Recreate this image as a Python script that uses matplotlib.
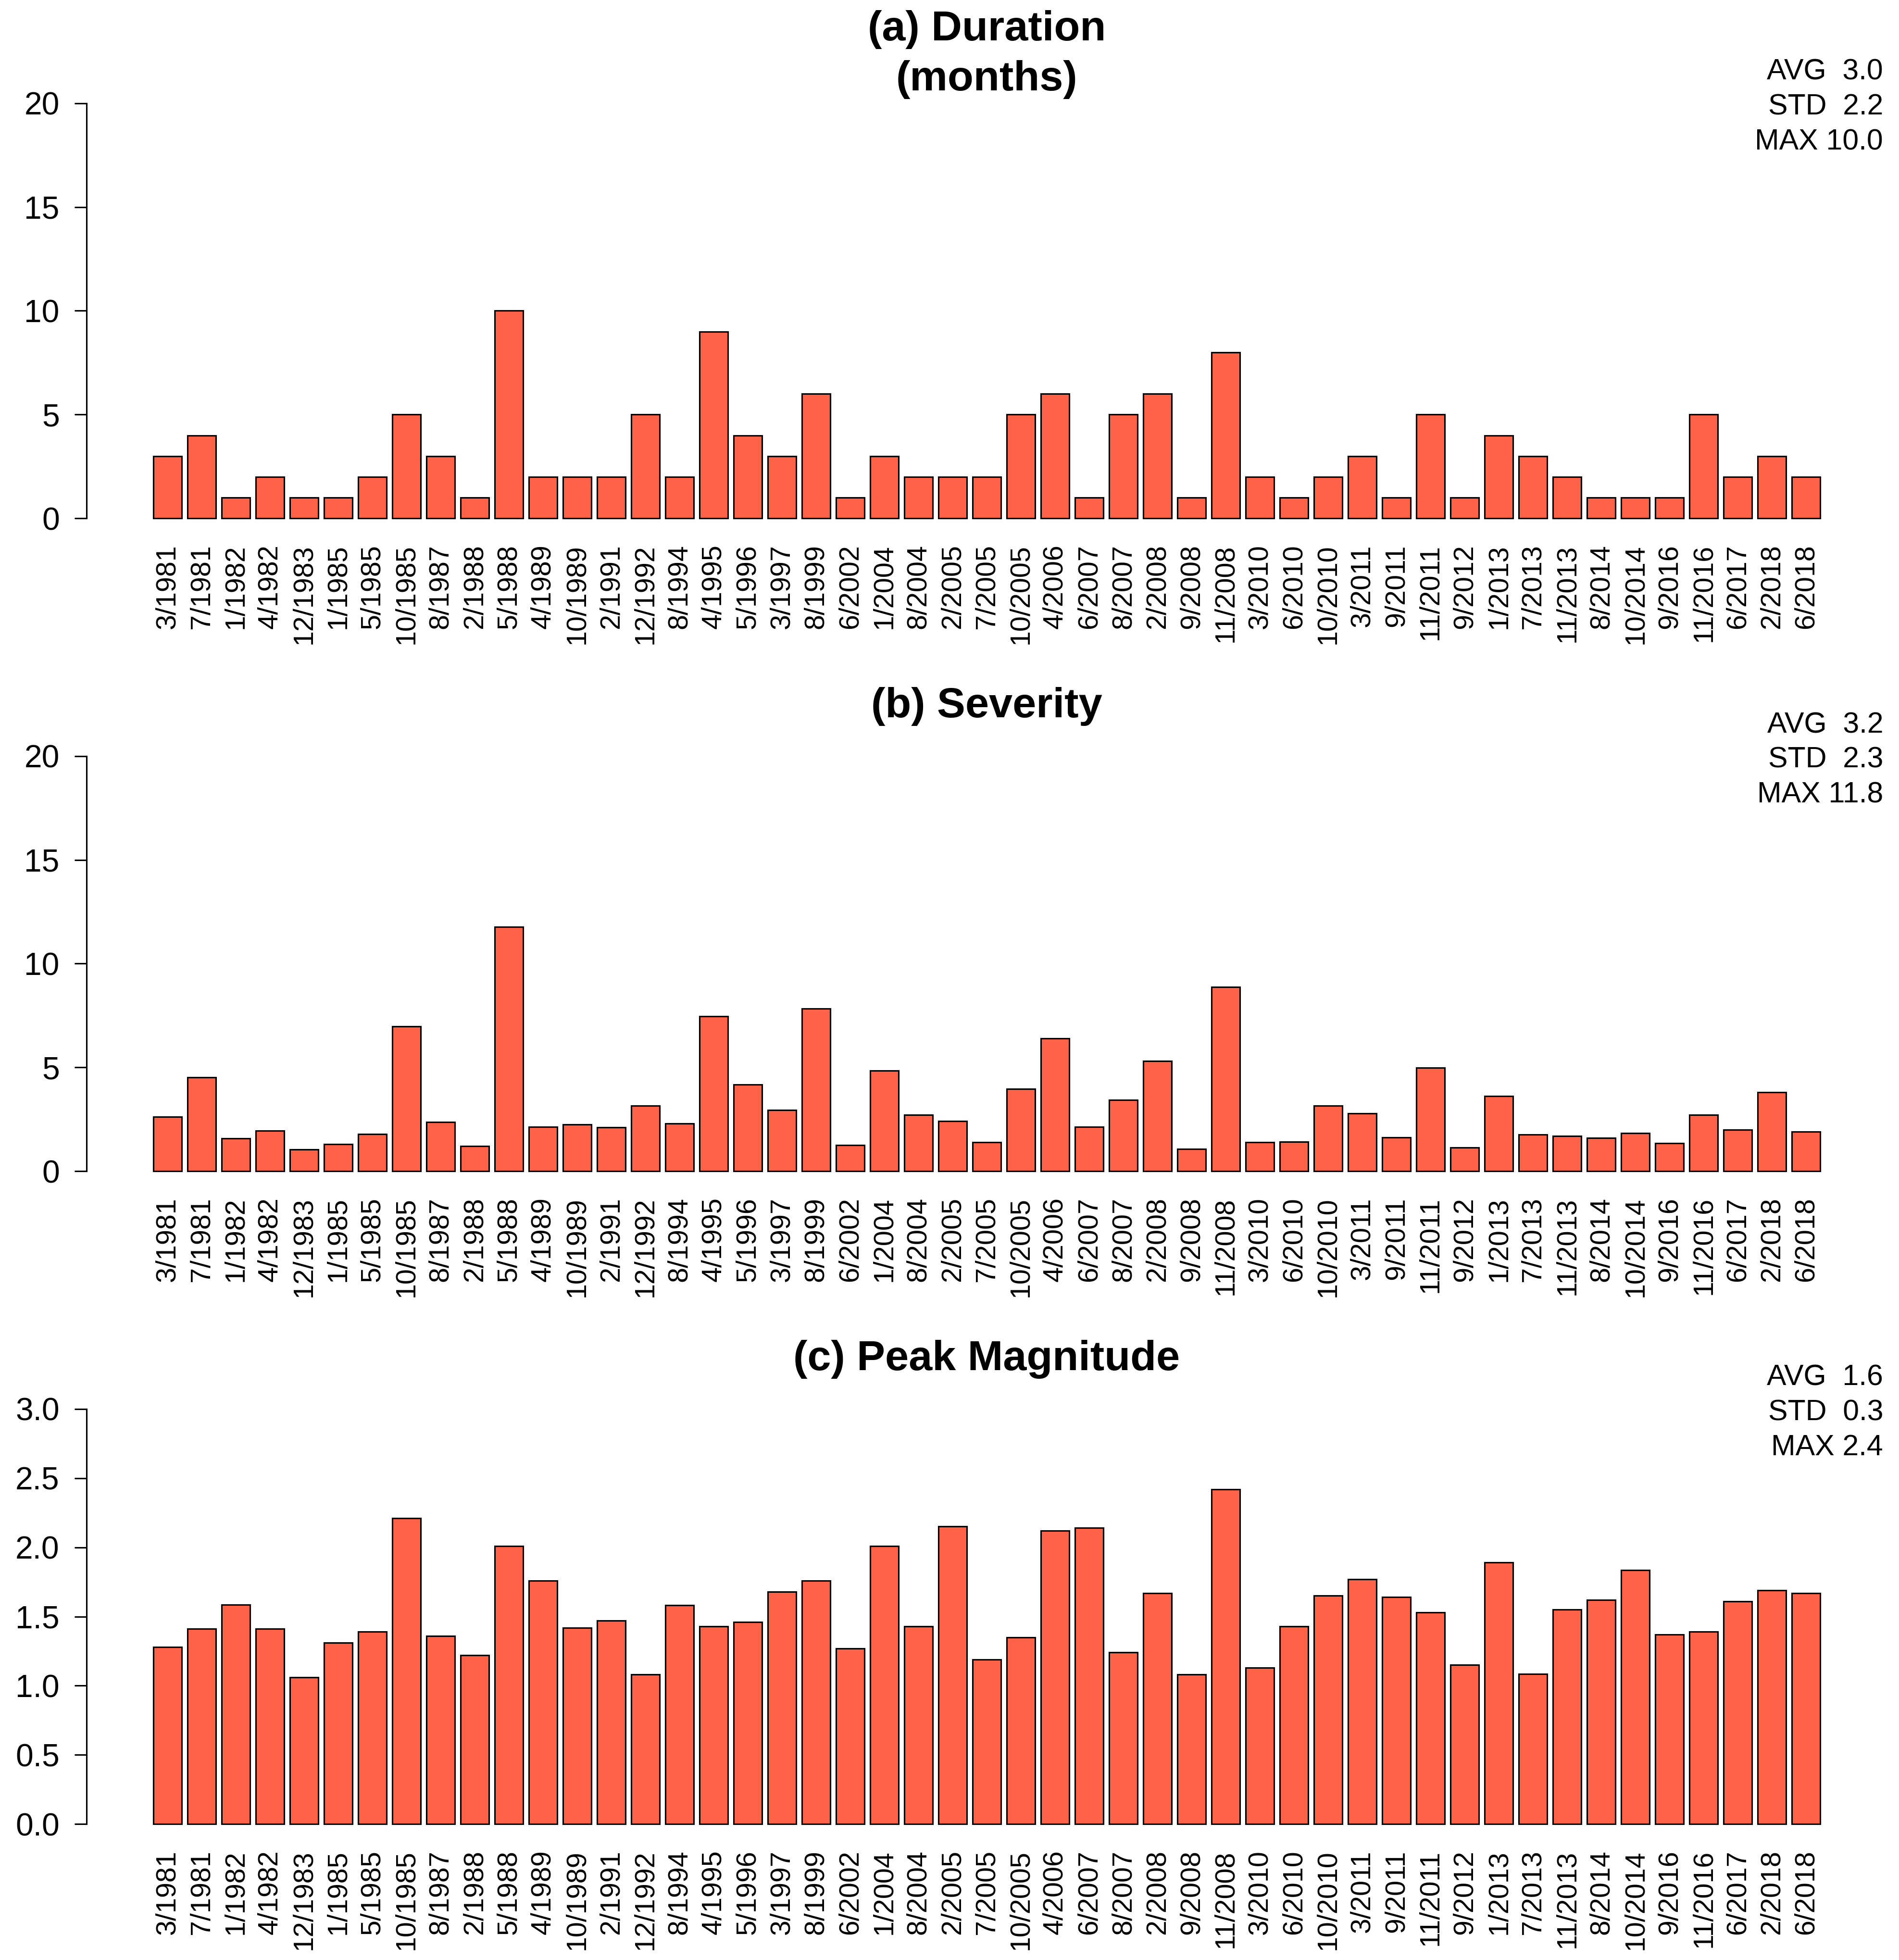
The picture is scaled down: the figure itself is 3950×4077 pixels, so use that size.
import matplotlib
matplotlib.use('Agg')
import matplotlib.pyplot as plt
import numpy as np

plt.rcParams['font.family'] = ['Liberation Sans', 'DejaVu Sans']

labels = ["3/1981", "7/1981", "1/1982", "4/1982", "12/1983", "1/1985", "5/1985",
          "10/1985", "8/1987", "2/1988", "5/1988", "4/1989", "10/1989", "2/1991",
          "12/1992", "8/1994", "4/1995", "5/1996", "3/1997", "8/1999", "6/2002",
          "1/2004", "8/2004", "2/2005", "7/2005", "10/2005", "4/2006", "6/2007",
          "8/2007", "2/2008", "9/2008", "11/2008", "3/2010", "6/2010", "10/2010",
          "3/2011", "9/2011", "11/2011", "9/2012", "1/2013", "7/2013", "11/2013",
          "8/2014", "10/2014", "9/2016", "11/2016", "6/2017", "2/2018", "6/2018"]

duration = [3, 4, 1, 2, 1, 1, 2, 5, 3, 1, 10, 2, 2, 2, 5, 2, 9, 4, 3, 6, 1, 3, 2, 2, 2,
            5, 6, 1, 5, 6, 1, 8, 2, 1, 2, 3, 1, 5, 1, 4, 3, 2, 1, 1, 1, 5, 2, 3, 2]

severity = [2.63, 4.52, 1.58, 1.96, 1.06, 1.31, 1.79, 6.99, 2.38, 1.21, 11.76, 2.13,
            2.26, 2.11, 3.15, 2.30, 7.46, 4.18, 2.95, 7.83, 1.27, 4.84, 2.71, 2.42,
            1.39, 3.97, 6.41, 2.13, 3.43, 5.32, 1.08, 8.88, 1.39, 1.43, 3.16, 2.78,
            1.64, 4.99, 1.15, 3.63, 1.76, 1.71, 1.61, 1.83, 1.36, 2.72, 2.01, 3.80, 1.92]

magnitude = [1.28, 1.41, 1.585, 1.41, 1.06, 1.31, 1.39, 2.21, 1.36, 1.22, 2.01, 1.76,
             1.42, 1.47, 1.08, 1.58, 1.43, 1.46, 1.68, 1.76, 1.27, 2.01, 1.43, 2.15,
             1.19, 1.35, 2.12, 2.14, 1.24, 1.67, 1.08, 2.42, 1.13, 1.43, 1.65, 1.77,
             1.64, 1.53, 1.15, 1.89, 1.085, 1.55, 1.62, 1.835, 1.37, 1.39, 1.61, 1.69, 1.67]

titles = [["(a) Duration", "(months)"], ["(b) Severity"], ["(c) Peak Magnitude"]]
stats = [["AVG  3.0", "STD  2.2", "MAX 10.0"],
         ["AVG  3.2", "STD  2.3", "MAX 11.8"],
         ["AVG  1.6", "STD  0.3", "MAX 2.4"]]
yticks = [[0, 5, 10, 15, 20], [0, 5, 10, 15, 20], [0.0, 0.5, 1.0, 1.5, 2.0, 2.5, 3.0]]
ytick_labels = [["0", "5", "10", "15", "20"], ["0", "5", "10", "15", "20"],
                ["0.0", "0.5", "1.0", "1.5", "2.0", "2.5", "3.0"]]
series = [duration, severity, magnitude]

BAR_COLOR = "#FF6347"
W, H = 3950, 4077
DPI = 300
fig = plt.figure(figsize=(W / DPI, H / DPI), dpi=DPI)

n = len(labels)
centers = 0.7 + 1.2 * np.arange(n)
xlo = 0.2 - 0.04 * (1.2 * n - 0.2)
xhi = 1.2 * n + 0.04 * (1.2 * n - 0.2)

ax_left_px, ax_right_px = 180, 3925
panel_h = 1358

for k in range(3):
    top_px = 180 + panel_h * k
    bot_px = 1113 + panel_h * k
    ax = fig.add_axes([ax_left_px / W, 1 - bot_px / H,
                       (ax_right_px - ax_left_px) / W, (bot_px - top_px) / H])
    ymax = yticks[k][-1]
    ax.bar(centers, series[k], width=1.0, color=BAR_COLOR, edgecolor="black", linewidth=0.75)
    ax.set_xlim(xlo, xhi)
    ax.set_ylim(-0.04 * ymax, 1.04 * ymax)
    for s in ["top", "right", "bottom"]:
        ax.spines[s].set_visible(False)
    ax.spines["left"].set_bounds(0, ymax)
    ax.spines["left"].set_linewidth(0.75)
    ax.set_yticks(yticks[k])
    ax.set_yticklabels(ytick_labels[k], fontsize=15.8)
    ax.tick_params(axis="y", length=6, width=0.75, pad=7.5)
    ax.set_xticks(centers)
    ax.set_xticklabels(labels, rotation=90, fontsize=13.8)
    ax.tick_params(axis="x", length=0, pad=4.6)

    # title
    tx = (ax_left_px + ax_right_px) / 2 / W
    if len(titles[k]) == 2:
        fig.text(tx, 1 - (62 + panel_h * k) / H, titles[k][0], ha="center", va="center",
                 fontsize=21.2, fontweight="bold")
        fig.text(tx, 1 - (166 + panel_h * k) / H, titles[k][1], ha="center", va="center",
                 fontsize=21.2, fontweight="bold")
    else:
        fig.text(tx, 1 - (112 + panel_h * k) / H, titles[k][0], ha="center", va="center",
                 fontsize=21.2, fontweight="bold")

    # stats
    for j, line in enumerate(stats[k]):
        fig.text(3917 / W, 1 - (166 + 72.6 * j + panel_h * k) / H, line,
                 ha="right", va="baseline", fontsize=14.6)

fig.savefig("out.png", dpi=DPI, facecolor="white")
